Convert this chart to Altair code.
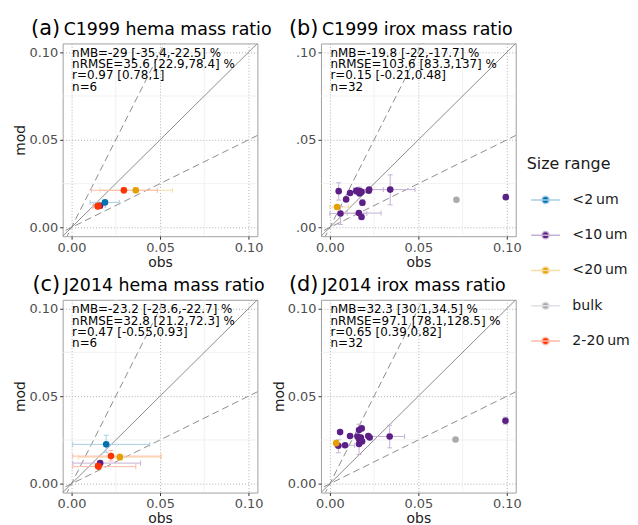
import altair as alt
import pandas as pd

# ---------------- categories / colours ----------------
size_cats = ["<2\u2009um", "<10\u2009um", "<20\u2009um", "bulk", "2-20\u2009um"]
fill_colors = ["#0072B2", "#5C1F86", "#E69F00", "#A9AAB0", "#FF3300"]
light_colors = ["#A6CEE4", "#C6B1D6", "#F6DDA6", "#E1E2E5", "#FFB8A6"]

panel_tags = ["(a)", "(b)", "(c)", "(d)"]
panel_titles = ["C1999 hema mass ratio", "C1999 irox mass ratio",
                "J2014 hema mass ratio", "J2014 irox mass ratio"]
stats_text = [
    ["nMB=-29 [-35.4,-22.5] %", "nRMSE=35.6 [22.9,78.4] %", "r=0.97 [0.78,1]", "n=6"],
    ["nMB=-19.8 [-22,-17.7] %", "nRMSE=103.6 [83.3,137] %", "r=0.15 [-0.21,0.48]", "n=32"],
    ["nMB=-23.2 [-23.6,-22.7] %", "nRMSE=32.8 [21.2,72.3] %", "r=0.47 [-0.55,0.93]", "n=6"],
    ["nMB=32.3 [30.1,34.5] %", "nRMSE=97.1 [78.1,128.5] %", "r=0.65 [0.39,0.82]", "n=32"],
]

tick_values = [0.0, 0.05, 0.10]
minor_values = [0.025, 0.075]
ref_slopes = [1.0, 2.0, 0.5]
ref_x = [-0.02, 0.12]
N = None

# ---------------- panel (a) C1999 hema ----------------
a_grp = [1, 0, 2, 4, 4, 4]
a_obs = [0.0161, 0.0189, 0.0363, 0.0296, 0.0152, 0.0148]
a_mod = [0.0124, 0.0143, 0.0212, 0.0212, 0.0123, 0.0120]
a_xlo = [0.0125, 0.0105, 0.0160, 0.0112, N, 0.0120]
a_xhi = [0.0190, 0.0270, 0.0570, 0.0485, N, 0.0175]
a_ylo = [N, 0.0135, 0.0197, 0.0195, N, 0.0110]
a_yhi = [N, 0.0152, 0.0228, 0.0228, N, 0.0130]

# ---------------- panel (b) C1999 irox ----------------
b_grp = [1, 1, 1, 1, 1, 1, 1, 1, 1, 1, 1, 1, 1, 1, 1, 1, 1, 1, 3, 2]
b_obs = [0.0050, 0.0114, 0.0149, 0.0155, 0.0160, 0.0168, 0.0172, 0.0179, 0.0168, 0.0220,
         0.0222, 0.0341, 0.0092, 0.0184, 0.0060, 0.0164, 0.0179, 0.0994, 0.0715, 0.0041]
b_mod = [0.0207, 0.0197, 0.0208, 0.0210, 0.0205, 0.0208, 0.0200, 0.0203, 0.0194, 0.0210,
         0.0216, 0.0216, 0.0160, 0.0141, 0.0080, 0.0082, 0.0060, 0.0173, 0.0158, 0.0117]
b_xlo = [N, N, N, N, N, N, N, N, N, N, 0.0134, 0.0220, N, N, 0.0000, 0.0098, N, N, N, 0.0000]
b_xhi = [N, N, N, N, N, N, N, N, N, N, 0.0302, 0.0481, N, N, 0.0209, 0.0289, N, N, N, 0.0106]
b_ylo = [0.0156, N, 0.0190, N, N, 0.0190, N, N, N, N, N, 0.0129, N, 0.0125, 0.0017, N, 0.0045, N, N, N]
b_yhi = [0.0255, N, 0.0225, N, N, 0.0230, N, N, N, N, N, 0.0300, N, 0.0160, 0.0119, N, 0.0075, N, N, N]

# ---------------- panel (c) J2014 hema ----------------
c_grp = [1, 0, 2, 4, 4, 4]
c_obs = [0.0162, 0.0196, 0.0273, 0.0223, 0.0150, 0.0153]
c_mod = [0.0118, 0.0225, 0.0152, 0.0158, 0.0101, 0.0098]
c_xlo = [0.0007, 0.0007, 0.0040, 0.0007, N, 0.0007]
c_xhi = [0.0390, 0.0442, 0.0506, 0.0506, N, 0.0363]
c_ylo = [0.0105, 0.0180, 0.0135, 0.0130, N, 0.0085]
c_yhi = [0.0130, 0.0277, 0.0170, 0.0190, N, 0.0110]

# ---------------- panel (d) J2014 irox ----------------
d_grp = [1, 1, 1, 1, 1, 1, 1, 1, 1, 1, 1, 1, 1, 1, 1, 3, 2]
d_obs = [0.0058, 0.0114, 0.0165, 0.0180, 0.0156, 0.0175, 0.0165, 0.0217, 0.0225,
         0.0338, 0.0165, 0.0182, 0.0048, 0.0086, 0.0992, 0.0710, 0.0036]
d_mod = [0.0295, 0.0273, 0.0307, 0.0316, 0.0270, 0.0264, 0.0255, 0.0273, 0.0264,
         0.0270, 0.0227, 0.0242, 0.0217, 0.0220, 0.0360, 0.0253, 0.0232]
d_xlo = [N, N, N, N, N, N, N, N, N, 0.0216, N, N, N, 0.0030, N, N, N]
d_xhi = [N, N, N, N, N, N, N, N, N, 0.0422, N, N, N, 0.0140, N, N, N]
d_ylo = [N, N, 0.0280, N, N, N, N, N, N, 0.0205, 0.0167, N, 0.0177, N, 0.0340, N, N]
d_yhi = [N, N, 0.0340, N, N, N, N, N, N, 0.0334, 0.0260, N, 0.0251, N, 0.0380, N, N]

panels = [
    (a_grp, a_obs, a_mod, a_xlo, a_xhi, a_ylo, a_yhi),
    (b_grp, b_obs, b_mod, b_xlo, b_xhi, b_ylo, b_yhi),
    (c_grp, c_obs, c_mod, c_xlo, c_xhi, c_ylo, c_yhi),
    (d_grp, d_obs, d_mod, d_xlo, d_xhi, d_ylo, d_yhi),
]

# ---------------- styling ----------------
W, H = 196, 194
DOM = [-0.005, 0.105]
FONT = "DejaVu Sans"
legend_path = ("M-0.76,0L1.24,0M0.49,0A0.25,0.25,0,1,1,-0.01,0"
               "A0.25,0.25,0,1,1,0.49,0Z")

fill_scale = alt.Scale(domain=size_cats, range=fill_colors)
stroke_scale = alt.Scale(domain=size_cats, range=light_colors)
# error bars: same colours, listed in reverse order (own scale, no legend)
bar_scale = alt.Scale(domain=size_cats[::-1], range=light_colors[::-1])
legend = alt.Legend(
    title="Size range", orient="none", legendX=467, legendY=113,
    symbolType=legend_path, symbolSize=841, symbolStrokeWidth=1.5,
    labelOffset=15, rowPadding=12.5, titlePadding=13, padding=0,
    labelFontSize=14.2, titleFontSize=16, labelColor="#1A1A1A",
    titleColor="#1A1A1A", titleFontWeight="normal", labelFont=FONT, titleFont=FONT,
)


def make_axis(title, label_expr=None):
    kw = dict(values=tick_values, format=".2f", grid=True, gridDash=[1, 2],
              gridColor="#B0B0B0", gridWidth=1, domain=False, tickColor="#333333",
              tickSize=3, labelColor="#4D4D4D", labelFontSize=13, titleFontSize=14,
              titleColor="#1A1A1A", titleFontWeight="normal", labelPadding=2,
              titlePadding=1, labelFont=FONT, titleFont=FONT)
    if label_expr:
        kw["labelExpr"] = label_expr
    kw["title"] = title
    return alt.Axis(**kw)


def panel(i):
    grp, obs, mod, xlo, xhi, ylo, yhi = panels[i]
    df = pd.DataFrame({
        "grp": [size_cats[g] for g in grp], "obs": obs, "mod": mod,
        "xlo": xlo, "xhi": xhi, "ylo": ylo, "yhi": yhi,
    })
    xs = alt.Scale(domain=DOM, nice=False, zero=False)
    ys = alt.Scale(domain=DOM, nice=False, zero=False)
    xaxis = make_axis("obs")
    if i == 1:
        yaxis = make_axis(None, "substring(datum.label, 1)")
    else:
        yaxis = make_axis("mod")

    minor = pd.DataFrame({"v": minor_values})
    gx = alt.Chart(minor).mark_rule(color="#EDEDED", strokeWidth=0.8).encode(
        x=alt.X("v:Q", scale=xs, axis=xaxis))
    gy = alt.Chart(minor).mark_rule(color="#EDEDED", strokeWidth=0.8).encode(
        y=alt.Y("v:Q", scale=ys, axis=yaxis))

    lines = pd.DataFrame([{"s": s, "x": x, "y": s * x} for s in ref_slopes for x in ref_x])
    solid = alt.Chart(lines).transform_filter("datum.s == 1").mark_line(
        clip=True, color="#8C8C8C", strokeWidth=1).encode(
        x=alt.X("x:Q", scale=xs, axis=xaxis), y=alt.Y("y:Q", scale=ys, axis=yaxis),
        detail="s:N")
    dashed = alt.Chart(lines).transform_filter("datum.s != 1").mark_line(
        clip=True, color="#8C8C8C", strokeWidth=1, strokeDash=[7, 4]).encode(
        x=alt.X("x:Q", scale=xs, axis=xaxis), y=alt.Y("y:Q", scale=ys, axis=yaxis),
        detail="s:N")

    bc = alt.Color("grp:N", scale=bar_scale, legend=None)
    xe = alt.Chart(df).transform_filter("isValid(datum.xlo)").mark_rule(strokeWidth=1).encode(
        x=alt.X("xlo:Q", scale=xs, axis=xaxis), x2="xhi:Q",
        y=alt.Y("mod:Q", scale=ys, axis=yaxis), color=bc)
    xc = alt.Chart(df).transform_filter("isValid(datum.xlo)").transform_fold(
        ["xlo", "xhi"], as_=["k", "xv"]).mark_rule(
        strokeWidth=1, yOffset=-2.5, y2Offset=2.5).encode(
        x=alt.X("xv:Q", scale=xs, axis=xaxis), y=alt.Y("mod:Q", scale=ys, axis=yaxis),
        y2="mod:Q", color=bc)
    ye = alt.Chart(df).transform_filter("isValid(datum.ylo)").mark_rule(strokeWidth=1).encode(
        y=alt.Y("ylo:Q", scale=ys, axis=yaxis), y2="yhi:Q",
        x=alt.X("obs:Q", scale=xs, axis=xaxis), color=bc)
    yc = alt.Chart(df).transform_filter("isValid(datum.ylo)").transform_fold(
        ["ylo", "yhi"], as_=["k", "yv"]).mark_rule(
        strokeWidth=1, xOffset=-2.5, x2Offset=2.5).encode(
        y=alt.Y("yv:Q", scale=ys, axis=yaxis), x=alt.X("obs:Q", scale=xs, axis=xaxis),
        x2="obs:Q", color=bc)

    pts = alt.Chart(df).mark_circle(size=44, opacity=1).encode(
        x=alt.X("obs:Q", scale=xs, axis=xaxis), y=alt.Y("mod:Q", scale=ys, axis=yaxis),
        fill=alt.Fill("grp:N", scale=fill_scale, legend=legend),
        stroke=alt.Stroke("grp:N", scale=stroke_scale, legend=legend),
        strokeOpacity=alt.value(0))

    txt_df = pd.DataFrame({"t": ["\n".join(stats_text[i])]})
    stats = alt.Chart(txt_df).mark_text(
        align="left", baseline="top", fontSize=12, lineHeight=11.4, font=FONT,
        color="#000000", lineBreak="\n").encode(
        x=alt.value(9.5), y=alt.value(4.5), text="t:N")

    title_df = pd.DataFrame({"tag": [panel_tags[i]], "ttl": [panel_titles[i]]})
    tag = alt.Chart(title_df).mark_text(
        align="right", baseline="alphabetic", fontSize=21, font=FONT, color="#000000").encode(
        x=alt.value(-2.5), y=alt.value(-9), text="tag:N")
    ttl = alt.Chart(title_df).mark_text(
        align="left", baseline="alphabetic", fontSize=17.5, font=FONT, color="#000000").encode(
        x=alt.value(1), y=alt.value(-9), text="ttl:N")

    return alt.layer(gx, gy, solid, dashed, xe, xc, ye, yc, pts, stats, tag, ttl).properties(
        width=W, height=H)


chart = alt.concat(panel(0), panel(1), panel(2), panel(3), columns=2, spacing=64,
                   bounds="flush").properties(
    padding={"left": 5, "top": 7, "right": 0, "bottom": 0}
).configure(font=FONT).configure_view(stroke="#A0A0A0", strokeWidth=1)

chart.save("out.html", embed_options={"renderer": "svg", "actions": False})
